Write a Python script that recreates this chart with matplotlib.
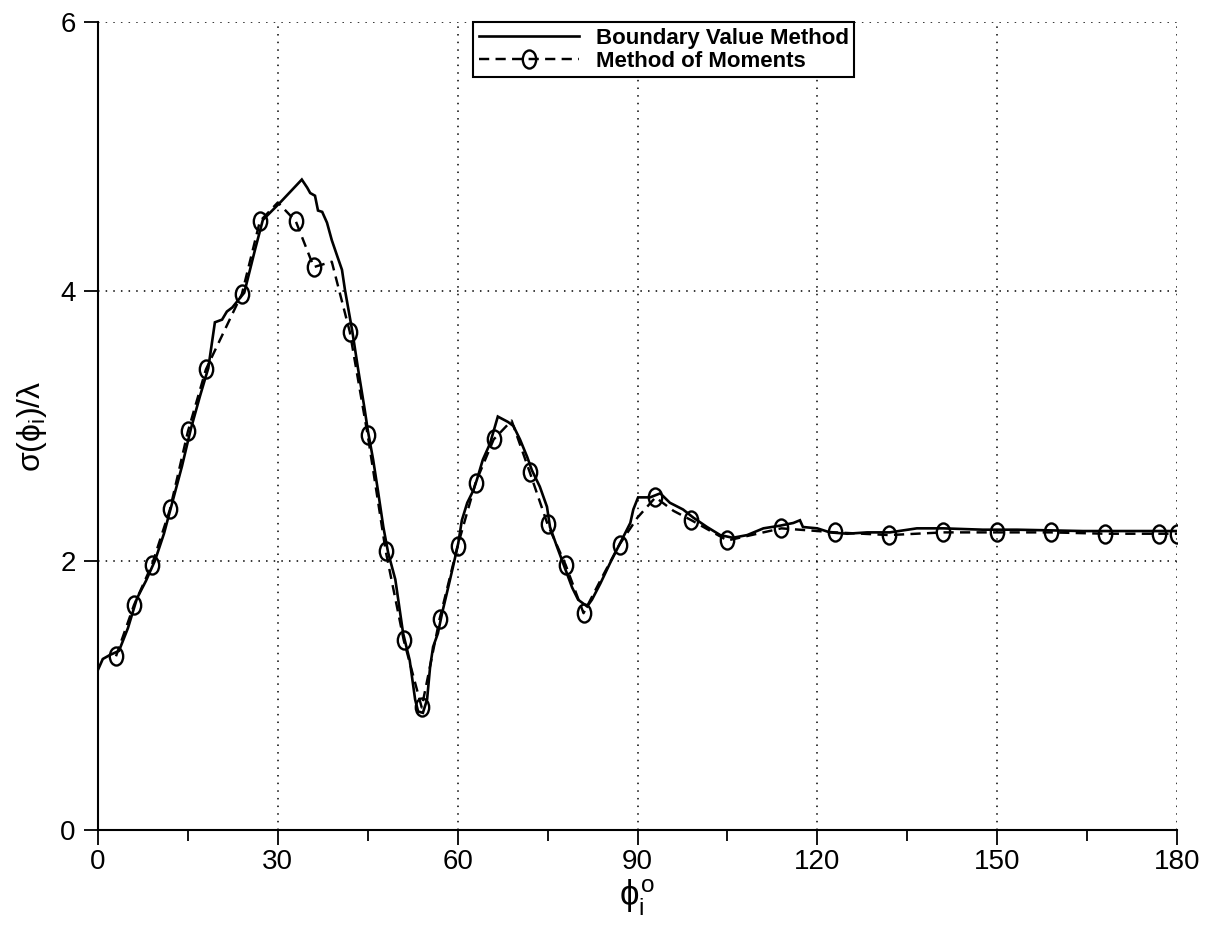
import matplotlib
matplotlib.use("Agg")
import matplotlib.pyplot as plt
from matplotlib.ticker import MultipleLocator
from matplotlib.path import Path
from matplotlib.transforms import Affine2D

plt.rcParams['font.family'] = ['Liberation Sans', 'DejaVu Sans']
plt.rcParams['mathtext.fontset'] = 'custom'
plt.rcParams['mathtext.rm'] = 'Liberation Sans'
plt.rcParams['mathtext.it'] = 'Liberation Sans'
plt.rcParams['mathtext.bf'] = 'Liberation Sans:bold'

# Boundary Value Method (solid)
bvm_x = [0.0, 0.8, 2.0, 3.5, 5.0, 6.5, 8.0, 9.5, 11.0, 12.5, 14.0, 15.5, 17.0, 18.4,
         19.5, 20.7, 21.5, 22.4, 24.4, 26.2, 27.5, 30.4, 34.0, 34.9, 35.4, 36.2, 36.7,
         37.4, 38.2, 39.0, 40.0, 40.7, 41.2, 42.4, 43.4, 44.5, 45.0, 45.9, 46.7, 47.6,
         48.4, 49.6, 50.9, 52.0, 52.9, 53.4, 54.2, 54.9, 55.4, 55.9, 56.7, 57.4, 58.2,
         59.2, 60.1, 60.7, 61.6, 62.6, 63.2, 64.2, 65.4, 66.7, 68.4, 69.3, 70.4, 71.6,
         72.4, 73.7, 74.9, 75.4, 76.6, 77.6, 79.1, 80.1, 81.6, 82.4, 83.8, 85.4, 87.1,
         88.8, 89.3, 90.1, 92.1, 93.8, 95.4, 97.6, 99.3, 101.6, 103.8, 105.9, 108.3,
         111.0, 113.8, 116.0, 117.1, 117.6, 120.0, 122.1, 125.0, 128.3, 132.1, 136.6,
         141.0, 147.6, 153.3, 164.3, 180.0]
bvm_y = [1.19, 1.27, 1.30, 1.33, 1.50, 1.72, 1.85, 2.00, 2.20, 2.45, 2.70, 2.98, 3.22, 3.43,
         3.77, 3.79, 3.85, 3.88, 3.99, 4.31, 4.53, 4.66, 4.83, 4.77, 4.73, 4.71, 4.60,
         4.59, 4.51, 4.38, 4.25, 4.16, 4.01, 3.71, 3.42, 3.12, 2.97, 2.75, 2.52, 2.25,
         2.06, 1.86, 1.46, 1.26, 0.97, 0.88, 0.87, 0.97, 1.21, 1.36, 1.46, 1.61, 1.76,
         1.95, 2.13, 2.30, 2.43, 2.52, 2.60, 2.75, 2.87, 3.07, 3.03, 3.00, 2.90, 2.77,
         2.67, 2.55, 2.40, 2.25, 2.10, 1.98, 1.80, 1.71, 1.66, 1.71, 1.83, 1.98, 2.13,
         2.28, 2.38, 2.47, 2.47, 2.50, 2.43, 2.38, 2.32, 2.25, 2.19, 2.17, 2.19,
         2.24, 2.26, 2.28, 2.30, 2.25, 2.24, 2.21, 2.20, 2.21, 2.21, 2.24,
         2.24, 2.23, 2.23, 2.22, 2.22]

# Method of Moments (dashed with circles)
mom_x = [3, 6, 9, 12, 15, 18, 21, 24, 27, 30, 33, 36, 39, 42, 45, 48, 51, 54, 57, 60,
         63, 66, 69, 72, 75, 78, 81, 84, 87, 90, 93, 96, 99, 105, 114, 123, 132, 141,
         150, 159, 168, 177, 180]
mom_y = [1.29, 1.67, 1.97, 2.38, 2.96, 3.42, 3.70, 3.98, 4.52, 4.66, 4.52, 4.18, 4.22,
         3.70, 2.93, 2.07, 1.41, 0.91, 1.57, 2.11, 2.58, 2.90, 3.04, 2.66, 2.27, 1.97,
         1.61, 1.87, 2.12, 2.32, 2.47, 2.37, 2.30, 2.15, 2.24, 2.21, 2.19, 2.21, 2.21,
         2.21, 2.20, 2.20, 2.20]
mom_no_marker = [21, 30, 39, 69, 84, 90, 96]

x_ticks = [0, 30, 60, 90, 120, 150, 180]
y_ticks = [0, 2, 4, 6]

fig = plt.figure(figsize=(12.07, 9.36), dpi=100)
ax = fig.add_axes([98/1207, 106/936, 1079/1207, 808/936])

mark_idx = [i for i, x in enumerate(mom_x) if x not in mom_no_marker]
ellipse = Path.unit_circle().transformed(Affine2D().scale(0.74, 1.0))

ax.plot(bvm_x, bvm_y, color='black', lw=1.9, solid_joinstyle='miter',
        label='Boundary Value Method', zorder=3)
ax.plot(mom_x, mom_y, color='black', lw=1.75, linestyle=(0, (4.2, 2.6)),
        marker=ellipse, markersize=13, mfc='none', mec='black', mew=1.7,
        markevery=mark_idx, label='Method of Moments', zorder=3)

ax.set_xlim(0, 180)
ax.set_ylim(0, 6)
ax.set_xticks(x_ticks)
ax.set_yticks(y_ticks)
ax.xaxis.set_minor_locator(MultipleLocator(15))
ax.tick_params(axis='x', which='major', direction='out', length=11, width=1.3,
               labelsize=20, pad=3)
ax.tick_params(axis='x', which='minor', direction='out', length=8, width=1.3)
ax.tick_params(axis='y', which='major', direction='out', length=10, width=1.3,
               labelsize=20, pad=6)

for s in ['top', 'right']:
    ax.spines[s].set_visible(False)
for s in ['left', 'bottom']:
    ax.spines[s].set_linewidth(1.5)

ax.grid(True, which='major', color='black', linestyle=(0, (1, 4)), linewidth=1.1)
ax.set_axisbelow(True)

ax.set_xlabel(r'$\phi_i^{\rm o}$', fontsize=25, labelpad=2)
ax.set_ylabel(r'$\sigma(\phi_i)/\lambda$', fontsize=23, labelpad=8)

leg = ax.legend(loc='upper left', bbox_to_anchor=(0.348, 1.0), frameon=True,
                fancybox=False, edgecolor='black', framealpha=1,
                prop={'weight': 'bold', 'size': 16}, handlelength=4.5,
                borderpad=0.25, labelspacing=0.1, handletextpad=0.75,
                borderaxespad=0)
leg.get_frame().set_linewidth(1.5)

fig.savefig('out.png', dpi=100)
